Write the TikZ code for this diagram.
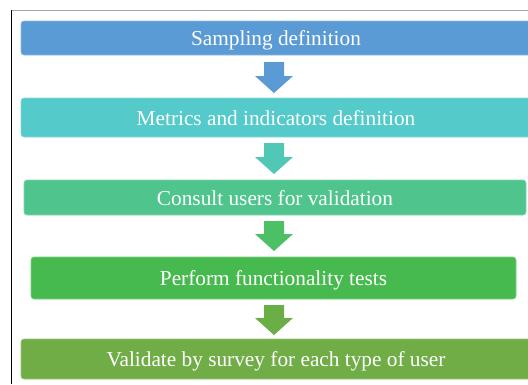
\documentclass[tikz,border=0pt]{standalone}
\usepackage{fontspec}
\setmainfont{Liberation Serif}
\definecolor{cA}{HTML}{5B9BD5}
\definecolor{cB}{HTML}{55CACB}
\definecolor{cBa}{HTML}{51C8B5}
\definecolor{cC}{HTML}{4FC58D}
\definecolor{cCa}{HTML}{4BC064}
\definecolor{cD}{HTML}{47BA4F}
\definecolor{cDa}{HTML}{6AAE46}
\definecolor{cE}{HTML}{70AD47}
\tikzset{
  stepbox/.style={rectangle, rounded corners=3pt, inner sep=0pt, text=white,
    font=\fontsize{21.3}{24}\selectfont, text depth=0pt, line width=0.6pt}
}
\newcommand{\blockarr}[3]{% top coordinate, length, colour
  \fill[#3] (#1) ++(-10,0) -- ++(20,0) -- ++(0,#2-17) -- ++(9,0) -- ++(-19,17) -- ++(-19,-17) -- ++(9,0) -- cycle;
}
\begin{document}
\begin{tikzpicture}[x=1pt,y=-1pt]
\useasboundingbox (0,0) rectangle (528,384);
\fill[white] (0,0) rectangle (528,384);
\begin{scope}
\clip (0,0) rectangle (528,384);
\draw[gray!70, line width=0.8pt] (11,10) -- (528,10);
\draw[black, line width=1pt] (11.5,10) -- (11.5,384);
\node[stepbox, fill=cA, draw=cA!70!white, minimum width=510pt, minimum height=34pt] (b1) at (276,38) {Sampling definition};
\node[stepbox, fill=cB, draw=cB!70!white, minimum width=510pt, minimum height=39pt] (b2) at (276,117.5) {Metrics and indicators definition};
\node[stepbox, fill=cC, draw=cC!70!white, minimum width=502pt, minimum height=35pt] (b3) at (275,197.5) {Consult users for validation};
\node[stepbox, fill=cD, draw=cD!70!white, minimum width=485pt, minimum height=42pt] (b4) at (273.5,278) {Perform functionality tests};
\node[stepbox, fill=cE, draw=cE!70!white, minimum width=510pt, minimum height=40pt] (b5) at (276,359) {Validate by survey for each type of user};
\coordinate (a1) at (274,62);
\coordinate (a2) at (274,143);
\coordinate (a3) at (274,221);
\coordinate (a4) at (274,305);
\blockarr{a1}{31}{cA}
\blockarr{a2}{31}{cBa}
\blockarr{a3}{30}{cCa}
\blockarr{a4}{30}{cDa}
\end{scope}
\end{tikzpicture}
\end{document}
